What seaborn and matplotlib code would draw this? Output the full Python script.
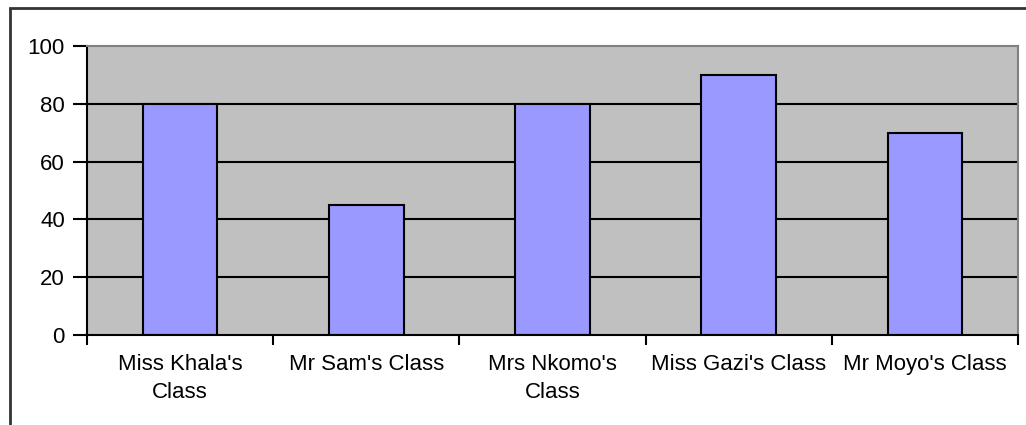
import matplotlib
matplotlib.use("Agg")
import matplotlib.pyplot as plt
from matplotlib.patches import Rectangle
from matplotlib.ticker import FixedLocator
import seaborn as sns
import pandas as pd

# Class scores
classes = ["Miss Khala's\nClass", "Mr Sam's Class", "Mrs Nkomo's\nClass",
           "Miss Gazi's Class", "Mr Moyo's Class"]
scores = [80, 45, 80, 90, 70]
y_ticks = [0, 20, 40, 60, 80, 100]

df = pd.DataFrame({"cls": classes, "score": scores})

sns.set_style("white")
plt.rcParams["font.family"] = ["Liberation Sans", "DejaVu Sans"]

fig = plt.figure(figsize=(10.26, 4.25), dpi=100)
ax = fig.add_axes([87 / 1026, 1 - 335 / 425, (1018 - 87) / 1026, (335 - 46) / 425])
ax.set_facecolor("#C0C0C0")

sns.barplot(data=df, x="cls", y="score", ax=ax, width=0.4,
            color="#9999FF", edgecolor="black", linewidth=1.5,
            saturation=1, zorder=3)

ax.set_xlim(-0.5, len(classes) - 0.5)
ax.set_ylim(0, 100)
ax.set_yticks(y_ticks)
ax.set_yticklabels([str(v) for v in y_ticks], fontsize=16, color="black")
ax.set_xticks(range(len(classes)))
ax.set_xticklabels(classes, fontsize=16, color="black", linespacing=1.4)
ax.xaxis.set_minor_locator(FixedLocator([i - 0.5 for i in range(len(classes) + 1)]))

ax.tick_params(axis="x", which="major", length=0, pad=14)
ax.tick_params(axis="x", which="minor", length=7, width=1.5, color="black",
               direction="out", bottom=True)
ax.tick_params(axis="y", which="major", length=10, width=1.5, color="black",
               direction="out", left=True, pad=6)

# horizontal gridlines
for v in y_ticks[1:-1]:
    ax.axhline(v, color="black", linewidth=1.5, zorder=1)

ax.set_xlabel("")
ax.set_ylabel("")

for side in ["left", "bottom"]:
    ax.spines[side].set_color("black")
    ax.spines[side].set_linewidth(1.5)
for side in ["top", "right"]:
    ax.spines[side].set_color("#808080")
    ax.spines[side].set_linewidth(1.5)
for s in ax.spines.values():
    s.set_zorder(4)

# outer frame around the chart
fig.patches.append(Rectangle((10 / 1026, -0.2), 1.2, 1 - 8 / 425 + 0.2,
                             transform=fig.transFigure, fill=False,
                             edgecolor="#333333", linewidth=2))

fig.savefig("out.png", dpi=100)
